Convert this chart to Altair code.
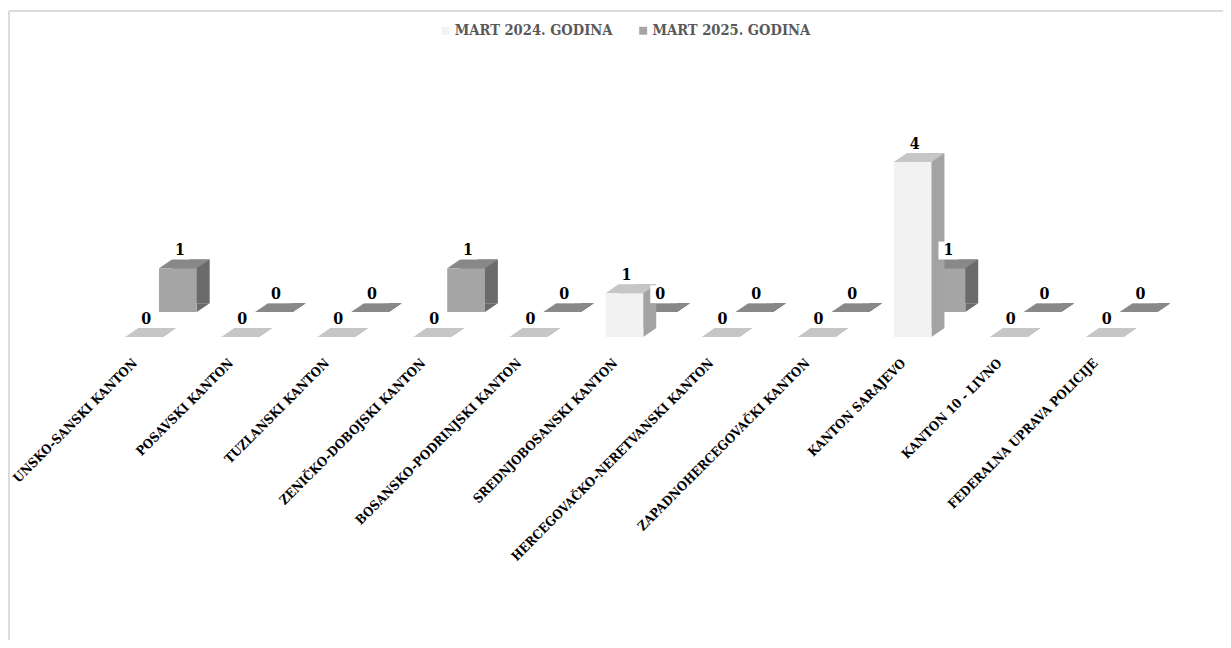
import altair as alt
import pandas as pd

categories = [
    "UNSKO-SANSKI KANTON",
    "POSAVSKI KANTON",
    "TUZLANSKI KANTON",
    "ZENIČKO-DOBOJSKI KANTON",
    "BOSANSKO-PODRINJSKI KANTON",
    "SREDNJOBOSANSKI KANTON",
    "HERCEGOVAČKO-NERETVANSKI KANTON",
    "ZAPADNOHERCEGOVAČKI KANTON",
    "KANTON SARAJEVO",
    "KANTON 10 - LIVNO",
    "FEDERALNA UPRAVA POLICIJE",
]
mart_2024 = [0, 0, 0, 0, 0, 1, 0, 0, 4, 0, 0]
mart_2025 = [1, 0, 0, 1, 0, 0, 0, 0, 1, 0, 0]
series_names = ["MART 2024. GODINA", "MART 2025. GODINA"]

front_colors = ["#f2f2f2", "#a5a5a5"]
side_colors = ["#a3a3a3", "#6b6b6b"]
top_colors = ["#c6c6c6", "#888888"]

rows = []
for c, a, b in zip(categories, mart_2024, mart_2025):
    rows.append({"kanton": c, "serija": series_names[0], "vrijednost": a})
    rows.append({"kanton": c, "serija": series_names[1], "vrijednost": b})
df = pd.DataFrame(rows)

FONT = "DejaVu Serif Condensed"
DX, DY = 13, 9          # depth of the pseudo-3D boxes
SHIFTS = [(0, 0), (34, -25)]  # second series sits behind the first

x_enc = alt.X(
    "kanton:N",
    sort=categories,
    scale=alt.Scale(paddingInner=0.607, paddingOuter=0.3),
    axis=alt.Axis(
        title=None, labelAngle=-45, labelAlign="right", labelBaseline="middle",
        labelPadding=24, labelOffset=-9, domain=False, ticks=False, grid=False,
        labelFont=FONT, labelFontSize=13, labelFontWeight="bold",
        labelColor="#000000", labelLimit=400,
    ),
)
y_scale = alt.Scale(domain=[0, 4.5], nice=False, zero=True)
y_val = alt.Y("vrijednost:Q", scale=y_scale, axis=None)
y_zero = alt.Y("nula:Q", scale=y_scale, axis=None)

color_enc = alt.Color(
    "serija:N",
    scale=alt.Scale(domain=series_names, range=front_colors),
    legend=alt.Legend(
        orient="none", legendX=344, legendY=-118, direction="horizontal",
        title=None, symbolType="square", symbolSize=64, symbolStrokeWidth=0,
        labelFont=FONT, labelFontSize=14.7, labelFontWeight="bold",
        labelColor="#595959", columnPadding=23, labelOffset=2,
    ),
)

TOP_SHAPE = "M -19 0 L -6 -9 L 32 -9 L 19 0 Z"
BOTTOM_TRI = "M 19 -9 L 32 -9 L 19 0 Z"
BOX_SHAPE = "M -10 -10 L 10 -10 L 10 8 L -10 8 Z"


def series_layers(i):
    ox, oy = SHIFTS[i]
    base = (
        alt.Chart(df)
        .transform_filter(alt.datum.serija == series_names[i])
        .transform_calculate(nula="0")
    )
    side = base.mark_bar(
        color=side_colors[i], xOffset=ox + DX, yOffset=oy - DY, y2Offset=oy - DY
    ).encode(x=x_enc, y=y_val)
    bottom = base.mark_point(
        shape=BOTTOM_TRI, size=4, filled=True, color=side_colors[i], opacity=1,
        strokeWidth=0, xOffset=ox, yOffset=oy,
    ).encode(x=x_enc, y=y_zero)
    top = base.mark_point(
        shape=TOP_SHAPE, size=4, filled=True, color=top_colors[i], opacity=1,
        strokeWidth=0, xOffset=ox, yOffset=oy,
    ).encode(x=x_enc, y=y_val)
    front = base.mark_bar(xOffset=ox, yOffset=oy, y2Offset=oy, opacity=1).encode(
        x=x_enc, y=y_val, color=color_enc
    )
    return [side, bottom, top, front]


def label_layers(i):
    ox, oy = SHIFTS[i]
    base = alt.Chart(df).transform_filter(alt.datum.serija == series_names[i])
    box = base.mark_point(
        shape=BOX_SHAPE, size=4, filled=True, color="#ffffff", opacity=1,
        strokeWidth=0, xOffset=ox + 2, yOffset=oy - 17,
    ).encode(x=x_enc, y=y_val)
    txt = base.mark_text(
        font=FONT, fontSize=16, fontWeight="bold", color="#000000",
        baseline="middle", align="center", dx=ox + 2, dy=oy - 18,
    ).encode(x=x_enc, y=y_val, text=alt.Text("vrijednost:Q"))
    return [box, txt]


frame_df = pd.DataFrame({"k": [0]})
frame_top = alt.Chart(frame_df).mark_rule(color="#dcdcdc", strokeWidth=2).encode(
    x=alt.value(-88), x2=alt.value(1140), y=alt.value(-130)
)
frame_left = alt.Chart(frame_df).mark_rule(color="#dcdcdc", strokeWidth=2).encode(
    x=alt.value(-88), y=alt.value(-130), y2=alt.value(510)
)

layers = [frame_top, frame_left]
layers += series_layers(1)
layers += series_layers(0)
layers += label_layers(1)
layers += label_layers(0)

chart = (
    alt.layer(*layers)
    .properties(
        width=1063,
        height=198,
        autosize=alt.AutoSizeParams(type="none"),
        padding={"left": 89, "top": 131, "right": 71, "bottom": 303},
        background="#ffffff",
    )
    .configure_view(stroke=None)
)

chart.save("out.html", embed_options={"renderer": "svg", "actions": False})
